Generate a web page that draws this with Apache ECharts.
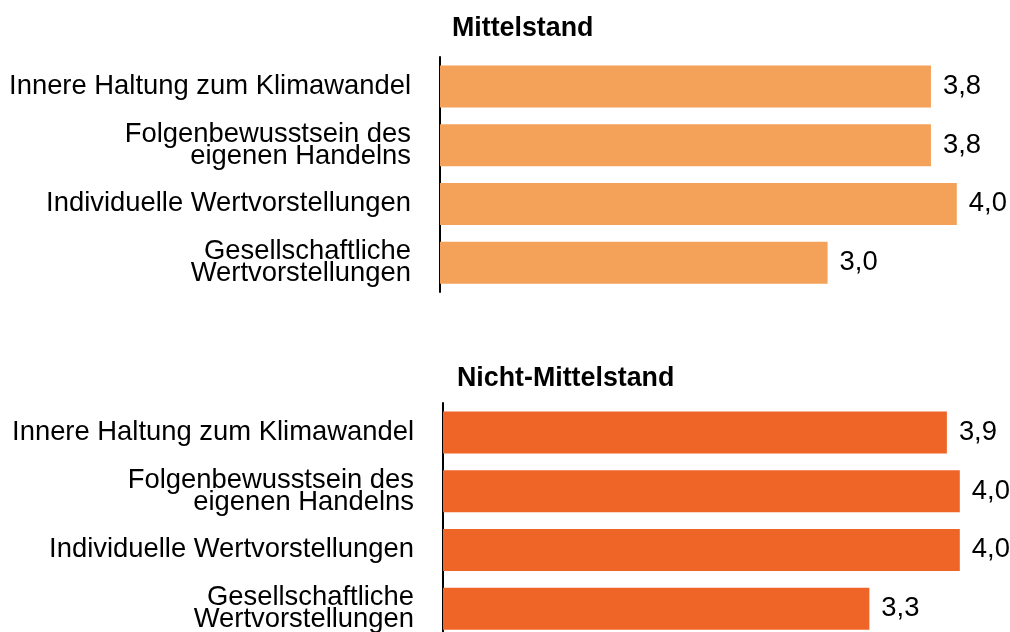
<!DOCTYPE html>
<html>
<head>
<meta charset="utf-8">
<script src="https://cdn.jsdelivr.net/npm/echarts@6/dist/echarts.min.js"></script>
<style>
* { margin: 0; padding: 0; }
html, body { width: 1010px; height: 632px; background: #fff; }
#main { width: 1010px; height: 632px; }
</style>
</head>
<body>
<div id="main"></div>
<script>
// Kategorien (von oben nach unten)
var categories = [
  "Innere Haltung zum Klimawandel",
  "Folgenbewusstsein des\neigenen Handelns",
  "Individuelle Wertvorstellungen",
  "Gesellschaftliche\nWertvorstellungen"
];
var mittelstandValues = [3.8, 3.8, 4.0, 3.0];
var nichtMittelstandValues = [3.9, 4.0, 4.0, 3.3];
var titles = ["Mittelstand", "Nicht-Mittelstand"];

var FONT = "Liberation Sans, Arial, sans-serif";

function fmt(p) {
  return p.value.toFixed(1).replace(".", ",");
}

function yAxisFor(idx) {
  return {
    type: "category",
    gridIndex: idx,
    inverse: true,
    data: categories,
    axisLine: { show: true, lineStyle: { color: "#000", width: 2 } },
    axisTick: { show: false },
    axisLabel: {
      color: "#000",
      fontFamily: FONT,
      fontSize: 27.4,
      lineHeight: 22,
      align: "right",
      margin: 29
    }
  };
}

function xAxisFor(idx) {
  return {
    type: "value",
    gridIndex: idx,
    min: 0,
    max: 5,
    show: false,
    splitLine: { show: false }
  };
}

function seriesFor(idx, data, color) {
  return {
    type: "bar",
    xAxisIndex: idx,
    yAxisIndex: idx,
    data: data,
    barWidth: 42,
    itemStyle: { color: color },
    label: {
      show: true,
      position: "right",
      distance: 12,
      color: "#000",
      fontFamily: FONT,
      fontSize: 27.4,
      formatter: fmt
    },
    silent: true
  };
}

var chart = echarts.init(document.getElementById("main"));
chart.setOption({
  animation: false,
  title: [
    {
      text: titles[0], left: 447, top: 10,
      textStyle: { fontFamily: FONT, fontSize: 26.8, fontWeight: "bold", color: "#000" }
    },
    {
      text: titles[1], left: 452, top: 360,
      textStyle: { fontFamily: FONT, fontSize: 26.8, fontWeight: "bold", color: "#000" }
    }
  ],
  grid: [
    { left: 440, top: 57, width: 646, height: 235, outerBoundsMode: "none" },
    { left: 443, top: 403, width: 646, height: 235, outerBoundsMode: "none" }
  ],
  xAxis: [xAxisFor(0), xAxisFor(1)],
  yAxis: [yAxisFor(0), yAxisFor(1)],
  series: [
    seriesFor(0, mittelstandValues, "#F4A259"),
    seriesFor(1, nichtMittelstandValues, "#EF6528")
  ]
});
</script>
</body>
</html>
